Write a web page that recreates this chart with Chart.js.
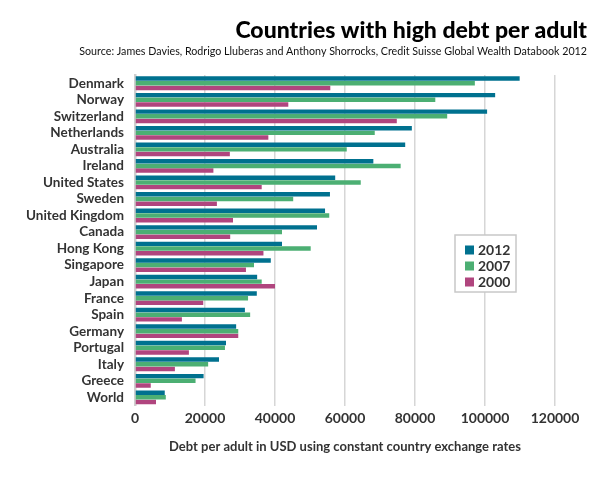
<!DOCTYPE html>
<html>
<head>
<meta charset="utf-8">
<script src="https://cdn.jsdelivr.net/npm/chart.js@4/dist/chart.umd.min.js"></script>
<style>
  html, body { margin: 0; padding: 0; background: #fff; }
  #wrap { width: 605px; height: 481px; position: relative; }
</style>
</head>
<body>
<div id="wrap"><canvas id="myChart" width="605" height="481"></canvas></div>
<script>
const countries = ['Denmark', 'Norway', 'Switzerland', 'Netherlands', 'Australia', 'Ireland', 'United States', 'Sweden', 'United Kingdom', 'Canada', 'Hong Kong', 'Singapore', 'Japan', 'France', 'Spain', 'Germany', 'Portugal', 'Italy', 'Greece', 'World'];
const debt2012 = [109900, 102900, 100600, 79100, 77200, 68100, 57200, 55700, 54300, 52000, 42000, 38800, 34900, 34800, 31400, 28900, 26000, 24000, 19600, 8500];
const debt2007 = [97100, 85800, 89200, 68500, 60500, 75900, 64500, 45200, 55500, 42000, 50200, 34000, 36200, 32300, 32900, 29500, 25700, 20900, 17300, 8800];
const debt2000 = [55800, 43800, 74800, 38100, 27100, 22400, 36200, 23400, 28000, 27200, 36700, 31700, 40000, 19500, 13400, 29500, 15400, 11400, 4500, 6000];
const xTicks = [0, 20000, 40000, 60000, 80000, 100000, 120000];

const titleText = 'Countries with high debt per adult';
const sourceText = 'Source: James Davies, Rodrigo Lluberas and Anthony Shorrocks, Credit Suisse Global Wealth Databook 2012';

// title + legend box drawn on the canvas
const extras = {
    id: 'extras',
    afterDraw(chart) {
        const ctx = chart.ctx;
        ctx.save();
        ctx.fillStyle = '#000';
        ctx.textAlign = 'right';
        ctx.textBaseline = 'middle';
        ctx.font = '900 23px Lato';
        ctx.fillText(titleText, 587, 31);
        ctx.font = '10.7px Lato';
        ctx.fillStyle = '#111';
        ctx.fillText(sourceText, 587, 52);

        // legend
        const lx = 455, ly = 235, lw = 61, lh = 57;
        ctx.strokeStyle = '#c8c8c8';
        ctx.lineWidth = 1.5;
        ctx.fillStyle = '#fff';
        ctx.fillRect(lx, ly, lw, lh);
        ctx.strokeRect(lx, ly, lw, lh);
        ctx.textAlign = 'left';
        ctx.font = 'bold 14px Lato';
        chart.data.datasets.forEach((ds, i) => {
            const y = ly + 15 + i * 16;
            ctx.fillStyle = ds.backgroundColor;
            ctx.fillRect(lx + 10, y - 4.5, 9, 9);
            ctx.fillStyle = '#333';
            ctx.fillText(ds.label, lx + 23, y + 0.5);
        });
        ctx.restore();
    }
};

const ctx = document.getElementById('myChart').getContext('2d');
const myChart = new Chart(ctx, {
    type: 'bar',
    data: {
        labels: countries,
        datasets: [
            { label: '2012', data: debt2012, backgroundColor: '#00718f' },
            { label: '2007', data: debt2007, backgroundColor: '#4caf73' },
            { label: '2000', data: debt2000, backgroundColor: '#b0457e' }
        ]
    },
    options: {
        indexAxis: 'y',
        responsive: false,
        animation: false,
        layout: { padding: { top: 75, right: 50, bottom: 26, left: 0 } },
        datasets: { bar: { categoryPercentage: 0.85, barPercentage: 0.95 } },
        plugins: {
            legend: { display: false },
            tooltip: { enabled: false }
        },
        scales: {
            x: {
                min: 0,
                max: 120000,
                afterBuildTicks: (scale) => { scale.ticks = xTicks.map(v => ({ value: v })); },
                grid: { color: '#d6d6d6', lineWidth: 1.5, drawTicks: false },
                border: { display: false },
                ticks: {
                    color: '#333',
                    font: { family: 'Lato', size: 14, weight: 'bold' },
                    padding: 4,
                    callback: (v) => String(v)
                },
                title: {
                    display: true,
                    text: 'Debt per adult in USD using constant country exchange rates',
                    color: '#333',
                    font: { family: 'Lato', size: 13, weight: 'bold' },
                    padding: { top: 9, bottom: 0 }
                }
            },
            y: {
                afterFit: (scale) => { scale.width = 135; },
                grid: { display: false },
                border: { display: true, color: '#cfcfcf', width: 2.5 },
                ticks: { color: '#333', font: { family: 'Lato', size: 13.5, weight: 'bold' }, padding: 3, autoSkip: false }
            }
        }
    },
    plugins: [extras]
});
</script>
</body>
</html>
